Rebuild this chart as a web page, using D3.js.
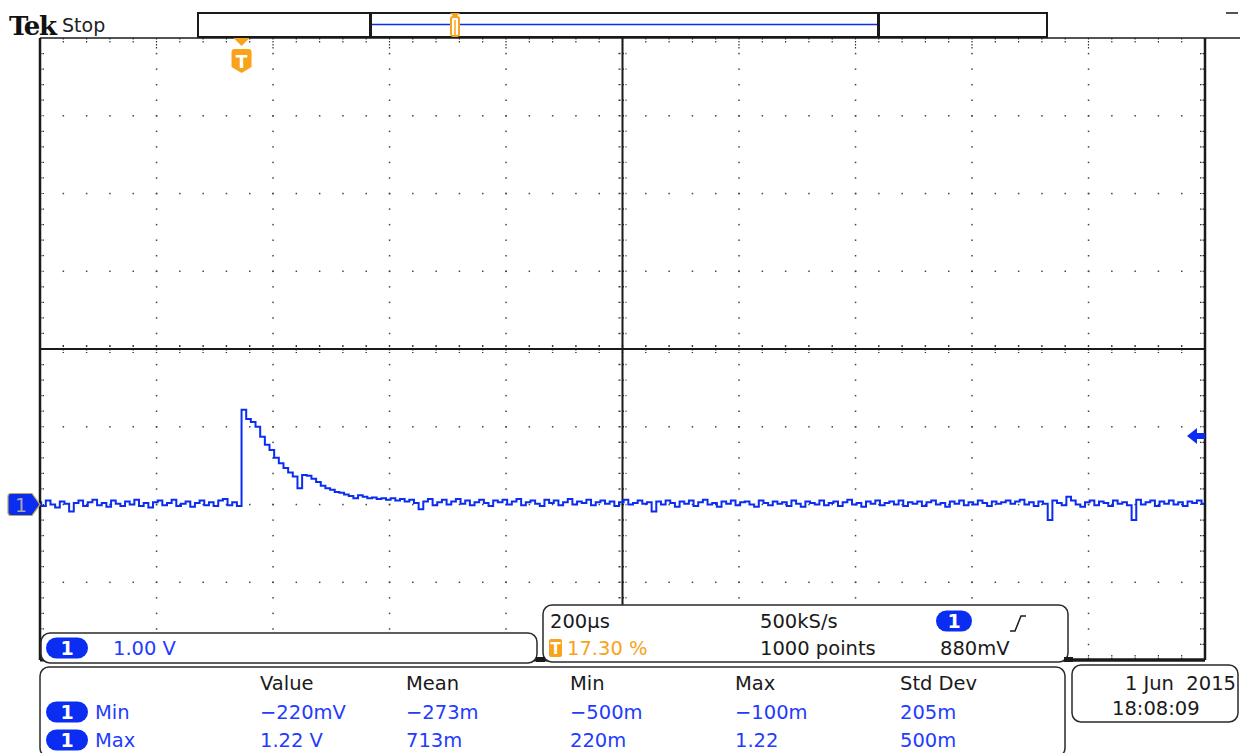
<!DOCTYPE html>
<html>
<head>
<meta charset="utf-8">
<script src="https://cdn.jsdelivr.net/npm/d3@7"></script>
<style>
  body { margin: 0; background: #fff; }
  svg { display: block; }
  text { font-family: "DejaVu Sans", sans-serif; }
</style>
</head>
<body>
<script>
// scope settings
const timePerDivUs = 200
const voltsPerDiv = 1
const triggerPct = 17.30
const triggerLevelV = 0.88

// trace samples (volts), one every 8 µs starting at -352 µs
const traceStartUs = -352
const traceStepUs = 8
const traceVolts = [
  0.03,-0.02,0.05,0.00,-0.04,0.04,0.01,-0.09,0.02,0.05,
  -0.02,0.03,0.06,-0.01,0.02,-0.03,0.05,0.01,-0.02,0.04,
  0.00,0.06,-0.02,0.02,-0.04,0.03,0.05,-0.01,0.02,0.06,
  -0.02,0.01,0.04,-0.03,0.02,0.05,-0.01,0.03,-0.02,0.05,
  0.07,-0.01,0.03,-0.02,
  1.22,1.10,1.06,1.00,0.87,0.77,0.70,0.60,0.53,0.47,
  0.41,0.36,0.21,0.38,0.37,0.33,0.29,0.24,0.21,0.19,
  0.16,0.15,0.13,0.11,0.08,0.12,0.10,0.08,0.09,0.07,
  0.08,0.06,0.08,0.05,0.07,0.04,
  0.06,0.02,-0.06,0.04,0.07,-0.01,0.03,0.06,0.00,0.04,
  0.07,0.01,0.05,-0.01,0.03,0.06,0.02,-0.02,0.05,0.03,
  0.06,0.00,0.04,0.07,-0.01,0.03,0.05,0.01,-0.02,0.06,
  0.02,0.05,-0.01,0.03,0.07,0.00,0.04,0.02,0.06,-0.01,
  0.03,0.05,0.01,0.04,-0.02,0.03,0.06,0.00,0.02,0.05,
  0.01,0.03,-0.09,0.04,0.00,0.05,0.02,-0.03,0.04,0.01,
  0.05,-0.02,0.03,0.06,0.00,0.02,-0.03,0.04,0.01,0.05,
  -0.01,0.03,0.04,0.00,-0.03,0.05,0.02,-0.01,0.04,0.01,
  0.03,-0.02,0.05,0.01,-0.03,0.04,0.02,0.00,0.05,-0.01,
  0.02,0.04,-0.02,0.03,0.06,0.00,0.02,-0.03,0.04,0.01,
  0.05,-0.01,0.02,0.04,0.00,0.05,-0.02,0.03,0.01,0.04,
  -0.02,0.03,0.05,0.00,0.02,-0.03,0.04,0.01,0.05,-0.01,
  0.03,0.00,0.05,0.02,-0.02,0.04,0.01,0.03,0.05,0.01,
  0.04,0.06,0.00,0.03,-0.02,0.04,0.01,-0.20,0.05,0.02,
  -0.01,0.10,0.05,0.00,-0.03,0.03,0.05,-0.01,0.04,0.02,
  -0.02,0.05,0.01,0.03,-0.01,-0.20,0.06,0.00,0.03,0.05,
  -0.02,0.04,0.01,0.05,0.00,0.03,-0.02,0.04,0.02,0.05,
  0.01,0.03
]

// measurement table
const measHeaders = ["Value", "Mean", "Min", "Max", "Std Dev"]
const measRowNames = ["Min", "Max"]
const measRows = [
  ["−220mV", "−273m", "−500m", "−100m", "205m"],
  ["1.22 V", "713m", "220m", "1.22", "500m"]
]
const timebaseTexts = ["200µs", "500kS/s", "1000 points", "880mV"]
const dateTexts = ["1 Jun  2015", "18:08:09"]

const w = 1240
const h = 753
const blue = "#0b2df2"
const textBlue = "#1f3cff"
const orange = "#f8a31b"
const ink = "#1a1a1a"

const svg = d3.select("body").append("svg").attr("width", w).attr("height", h)

// graticule: 10 x 8 divisions
const gx = d3.scaleLinear().domain([0, 10]).range([40, 1205])
const gy = d3.scaleLinear().domain([0, 8]).range([38, 660])

// data scales (ground 2 div below centre, trigger at 17.3 %)
const t0 = -triggerPct / 100 * 10 * timePerDivUs
const x = d3.scaleLinear().domain([t0, t0 + 10 * timePerDivUs]).range([40, 1205])
const y = d3.scaleLinear().domain([-2 * voltsPerDiv, 6 * voltsPerDiv]).range([660, 38])

const grat = svg.append("g")

// dotted grid lines
const minorX = d3.range(1, 50)
const minorY = d3.range(1, 40)
;[1,2,3,4,6,7,8,9].forEach(i => {
  grat.selectAll(null).data(minorY).enter().append("rect")
    .attr("x", gx(i) - 0.7).attr("y", d => gy(d / 5) - 0.7)
    .attr("width", 1.5).attr("height", 1.5).attr("fill", "#444")
})
;[1,2,3,5,6,7].forEach(k => {
  grat.selectAll(null).data(minorX).enter().append("rect")
    .attr("x", d => gx(d / 5) - 0.7).attr("y", gy(k) - 0.7)
    .attr("width", 1.5).attr("height", 1.5).attr("fill", "#444")
})

// border ticks
grat.selectAll(null).data(minorY).enter().append("line")
  .attr("x1", 40).attr("x2", 45).attr("y1", d => gy(d / 5)).attr("y2", d => gy(d / 5))
  .attr("stroke", "#333").attr("stroke-width", 1.2).attr("stroke-dasharray", "1.5,1")
grat.selectAll(null).data(minorY).enter().append("line")
  .attr("x1", 1200).attr("x2", 1205).attr("y1", d => gy(d / 5)).attr("y2", d => gy(d / 5))
  .attr("stroke", "#333").attr("stroke-width", 1.2).attr("stroke-dasharray", "1.5,1")
grat.selectAll(null).data(minorX).enter().append("line")
  .attr("x1", d => gx(d / 5)).attr("x2", d => gx(d / 5)).attr("y1", 38).attr("y2", d => d % 5 ? 43 : 50)
  .attr("stroke", "#333").attr("stroke-width", 1.2).attr("stroke-dasharray", "1.5,1.5")
grat.selectAll(null).data(minorX).enter().append("line")
  .attr("x1", d => gx(d / 5)).attr("x2", d => gx(d / 5)).attr("y1", 655).attr("y2", 660)
  .attr("stroke", "#333").attr("stroke-width", 1.2).attr("stroke-dasharray", "1.5,1")

// centre cross ticks
grat.selectAll(null).data(minorX).enter().append("line")
  .attr("x1", d => gx(d / 5)).attr("x2", d => gx(d / 5)).attr("y1", gy(4) - 4).attr("y2", gy(4) + 4)
  .attr("stroke", "#333").attr("stroke-width", 1.4).attr("stroke-dasharray", "2,1.5")
grat.selectAll(null).data(minorY).enter().append("line")
  .attr("x1", gx(5) - 4).attr("x2", gx(5) + 4).attr("y1", d => gy(d / 5)).attr("y2", d => gy(d / 5))
  .attr("stroke", "#333").attr("stroke-width", 1.4).attr("stroke-dasharray", "2,1.5")

// centre lines and border
grat.append("line").attr("x1", 40).attr("x2", 1205).attr("y1", gy(4)).attr("y2", gy(4))
  .attr("stroke", ink).attr("stroke-width", 2)
grat.append("line").attr("x1", gx(5)).attr("x2", gx(5)).attr("y1", 38).attr("y2", 660)
  .attr("stroke", ink).attr("stroke-width", 2)
grat.append("line").attr("x1", 40).attr("x2", 40).attr("y1", 38).attr("y2", 660)
  .attr("stroke", ink).attr("stroke-width", 2.5)
grat.append("line").attr("x1", 1205).attr("x2", 1205).attr("y1", 38).attr("y2", 660)
  .attr("stroke", ink).attr("stroke-width", 2.5)
grat.append("line").attr("x1", 40).attr("x2", 1240).attr("y1", 38).attr("y2", 38)
  .attr("stroke", ink).attr("stroke-width", 1.5)
grat.append("line").attr("x1", 40).attr("x2", 1205).attr("y1", 660).attr("y2", 660)
  .attr("stroke", ink).attr("stroke-width", 3)

// trace
svg.append("clipPath").attr("id", "plot")
  .append("rect").attr("x", 41).attr("y", 38).attr("width", 1163).attr("height", 622)
const trace = traceVolts.map((v, i) => ({ t: traceStartUs + i * traceStepUs, v: v }))
const line = d3.line().x(d => x(d.t)).y(d => y(d.v)).curve(d3.curveStepAfter)
svg.append("path").datum(trace)
  .attr("clip-path", "url(#plot)")
  .attr("d", line)
  .attr("fill", "none").attr("stroke", blue).attr("stroke-width", 2)

// ground marker for channel 1
const gY = y(0)
svg.append("path")
  .attr("d", `M11,${gY - 11} h21 l8,11 l-8,11 h-21 q-3,0 -3,-3 v-16 q0,-3 3,-3 z`)
  .attr("fill", blue).attr("stroke", "#b9a85a").attr("stroke-width", 1.2)
svg.append("text").attr("x", 21).attr("y", gY + 7).attr("text-anchor", "middle")
  .attr("font-size", 19).attr("fill", "#a8a8a8").text("1")

// trigger level arrow
const tY = y(triggerLevelV)
svg.append("path")
  .attr("d", `M1187,${tY} l10,-8 v5 h8 v6 h-8 v5 z`).attr("fill", blue)

// trigger position marker
const tX = x(0)
svg.append("path").attr("d", `M${tX - 8},38 h16 l-8,8 z`).attr("fill", orange)
svg.append("path")
  .attr("d", `M${tX - 10},52 q0,-3 3,-3 h14 q3,0 3,3 v15 l-10,6 l-10,-6 z`).attr("fill", orange)
svg.append("text").attr("x", tX).attr("y", 68).attr("text-anchor", "middle")
  .attr("font-size", 17).attr("font-weight", "bold").attr("fill", "#fff").text("T")

// header
svg.append("text").attr("x", 9).attr("y", 35)
  .style("font-family", "'DejaVu Serif', serif").attr("font-weight", "bold")
  .attr("font-size", 26).attr("letter-spacing", -1.5).attr("fill", "#111").text("Tek")
svg.append("text").attr("x", 62).attr("y", 32)
  .attr("font-size", 19).attr("fill", "#222").text("Stop")

// record view bar
svg.append("rect").attr("x", 198).attr("y", 13).attr("width", 849).attr("height", 24)
  .attr("fill", "#fff").attr("stroke", ink).attr("stroke-width", 2)
svg.append("rect").attr("x", 369).attr("y", 13).attr("width", 3).attr("height", 24).attr("fill", ink)
svg.append("rect").attr("x", 877).attr("y", 13).attr("width", 3).attr("height", 24).attr("fill", ink)
svg.append("line").attr("x1", 372).attr("x2", 877).attr("y1", 24.5).attr("y2", 24.5)
  .attr("stroke", blue).attr("stroke-width", 1.5)
svg.append("path").attr("d", "M450,13 h10 l-5,5 z").attr("fill", orange)
svg.append("rect").attr("x", 451).attr("y", 17).attr("width", 8).attr("height", 19).attr("rx", 2)
  .attr("fill", "#fff").attr("stroke", orange).attr("stroke-width", 2)
svg.append("line").attr("x1", 455).attr("x2", 455).attr("y1", 20).attr("y2", 35)
  .attr("stroke", orange).attr("stroke-width", 1.5)
svg.append("line").attr("x1", 1226).attr("x2", 1238).attr("y1", 13).attr("y2", 13)
  .attr("stroke", ink).attr("stroke-width", 1.5)

// pill badge helper
function pill(g, cx, cy, pw, ph) {
  g.append("rect").attr("x", cx - pw / 2).attr("y", cy - ph / 2).attr("width", pw).attr("height", ph)
    .attr("rx", ph / 2).attr("fill", blue)
  g.append("text").attr("x", cx).attr("y", cy + 7).attr("text-anchor", "middle")
    .attr("font-size", 19).attr("font-weight", "bold").attr("fill", "#fff").text("1")
}

// bottom boxes
const boxes = svg.append("g")
function box(bx, by, bw, bh) {
  boxes.append("rect").attr("x", bx).attr("y", by).attr("width", bw).attr("height", bh)
    .attr("rx", 9).attr("fill", "#fff").attr("stroke", "#2a2a2a").attr("stroke-width", 1.5)
}
box(41, 633, 496, 30)
box(543, 605, 525, 57)
box(40, 667, 1025, 90)
box(1072, 665, 166, 57)
boxes.append("rect").attr("x", 536).attr("y", 657).attr("width", 9).attr("height", 5).attr("fill", ink)
boxes.append("rect").attr("x", 1064).attr("y", 657).attr("width", 9).attr("height", 5).attr("fill", ink)
boxes.append("line").attr("x1", 1068).attr("x2", 1205).attr("y1", 660).attr("y2", 660)
  .attr("stroke", ink).attr("stroke-width", 3)

// channel scale box
pill(boxes, 67, 648, 42, 21)
boxes.append("text").attr("x", 113).attr("y", 655).attr("font-size", 19.5).attr("fill", textBlue).text("1.00 V")

// timebase / trigger box
const tb = boxes.append("g").attr("font-size", 19.5).attr("fill", ink)
tb.append("text").attr("x", 550).attr("y", 628).text(timebaseTexts[0])
tb.append("text").attr("x", 760).attr("y", 628).text(timebaseTexts[1])
tb.append("text").attr("x", 760).attr("y", 655).text(timebaseTexts[2])
tb.append("text").attr("x", 940).attr("y", 655).text(timebaseTexts[3])
pill(boxes, 954, 621, 36, 21)
boxes.append("path").attr("d", "M1010,631 h5 l6,-15 h5")
  .attr("fill", "none").attr("stroke", ink).attr("stroke-width", 1.5)
boxes.append("rect").attr("x", 549).attr("y", 639).attr("width", 13).attr("height", 18).attr("rx", 2)
  .attr("fill", orange)
boxes.append("text").attr("x", 555.5).attr("y", 654).attr("text-anchor", "middle")
  .attr("font-size", 15).attr("font-weight", "bold").attr("fill", "#fff").text("T")
boxes.append("text").attr("x", 567).attr("y", 655).attr("font-size", 19.5).attr("fill", orange)
  .text(triggerPct.toFixed(2) + " %")

// measurements table
const colX = [260, 406, 570, 735, 900]
boxes.selectAll(null).data(measHeaders).enter().append("text")
  .attr("x", (d, i) => colX[i]).attr("y", 690).attr("font-size", 19.5).attr("fill", ink).text(d => d)
measRows.forEach((row, r) => {
  const ry = 719 + r * 28
  pill(boxes, 67, ry - 7, 42, 21)
  boxes.append("text").attr("x", 95).attr("y", ry).attr("font-size", 19.5).attr("fill", textBlue)
    .text(measRowNames[r])
  boxes.selectAll(null).data(row).enter().append("text")
    .attr("x", (d, i) => colX[i]).attr("y", ry).attr("font-size", 19.5).attr("fill", textBlue).text(d => d)
})

// date box
boxes.append("text").attr("x", 1236).attr("y", 690).attr("text-anchor", "end")
  .style("white-space", "pre").attr("font-size", 19.5).attr("fill", ink).text(dateTexts[0])
boxes.append("text").attr("x", 1112).attr("y", 715).attr("font-size", 19.5).attr("fill", ink).text(dateTexts[1])
</script>
</body>
</html>
